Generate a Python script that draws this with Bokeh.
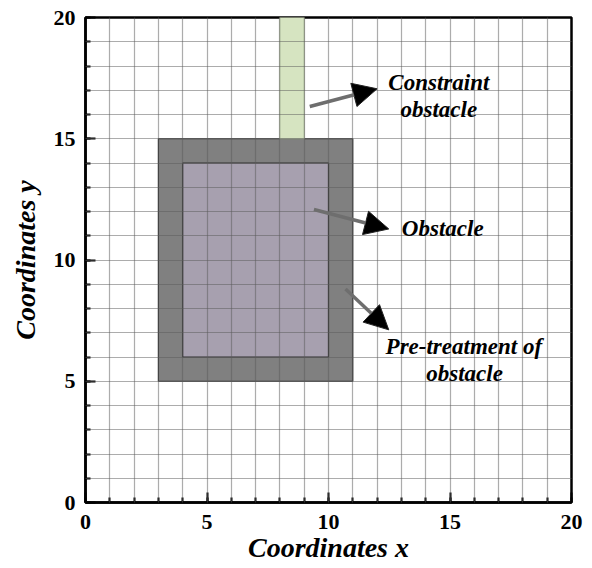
from bokeh.plotting import figure
from bokeh.models import (ColumnDataSource, Arrow, NormalHead, LabelSet,
                          SingleIntervalTicker)
from bokeh.embed import file_html
from bokeh.resources import INLINE

# Regions (data units)
region_names = ["Pre-treatment", "Obstacle", "Constraint"]
region_left = [3, 4, 8]
region_right = [11, 10, 9]
region_bottom = [5, 6, 15]
region_top = [15, 14, 20]
region_colors = ["#808080", "#a7a0af", "#d6e4c1"]
region_lines = ["#2e2e2e", "#2e2e2e", "#b5c2a2"]

# Arrows (tail -> tip)
arrow_x0 = [9.23, 9.40, 10.70]
arrow_y0 = [16.33, 12.08, 8.80]
arrow_x1 = [12.00, 12.48, 12.48]
arrow_y1 = [17.06, 11.28, 7.12]

# Annotation texts
label_text = ["Constraint", "obstacle", "Obstacle", "Pre-treatment of", "obstacle"]
label_x = [14.54, 14.54, 14.70, 15.57, 15.60]
label_y = [17.33, 16.19, 11.31, 6.43, 5.31]

FONT = "Liberation Serif"

p = figure(frame_width=486, frame_height=485, x_range=(0, 20), y_range=(0, 20),
           output_backend="svg", toolbar_location=None,
           min_border_left=85, min_border_top=17, min_border_right=12,
           min_border_bottom=10)

p.quad(left=region_left, right=region_right, bottom=region_bottom, top=region_top,
       fill_color=region_colors, line_color=region_lines, line_width=1.2)

# grid on every unit, drawn over the regions
for g in (p.xgrid[0], p.ygrid[0]):
    g.ticker = SingleIntervalTicker(interval=1)
    g.grid_line_color = "#5a5a5a"
    g.grid_line_alpha = 0.5
    g.grid_line_width = 1.2
    g.level = "guide"

for ax in (p.xaxis[0], p.yaxis[0]):
    ax.ticker = SingleIntervalTicker(interval=5, num_minor_ticks=5)
    ax.axis_line_width = 2.5
    ax.axis_line_color = "black"
    ax.major_tick_in = 10
    ax.major_tick_out = 0
    ax.minor_tick_in = 5
    ax.minor_tick_out = 0
    ax.major_tick_line_width = 2
    ax.minor_tick_line_width = 2
    ax.major_label_text_font = FONT
    ax.major_label_text_font_style = "bold"
    ax.major_label_text_font_size = "22px"
    ax.major_label_text_color = "black"
    ax.axis_label_text_font = FONT
    ax.axis_label_text_font_style = "bold italic"
    ax.axis_label_text_font_size = "28px"
    ax.axis_label_text_color = "black"

p.xaxis.axis_label = "Coordinates x"
p.yaxis.axis_label = "Coordinates y"
p.xaxis.major_label_standoff = 12
p.yaxis.major_label_standoff = 10
p.xaxis.axis_label_standoff = 0
p.yaxis.axis_label_standoff = 10

p.outline_line_color = "black"
p.outline_line_width = 2.5
p.outline_line_alpha = 1

arrow_src = ColumnDataSource(dict(x0=arrow_x0, y0=arrow_y0, x1=arrow_x1, y1=arrow_y1))
p.add_layout(Arrow(end=NormalHead(size=24, fill_color="black", line_color="#222222"),
                   x_start="x0", y_start="y0", x_end="x1", y_end="y1",
                   source=arrow_src, line_color="#6e6e6e", line_width=3.5))

label_src = ColumnDataSource(dict(x=label_x, y=label_y, t=label_text))
p.add_layout(LabelSet(x="x", y="y", text="t", source=label_src,
                      text_align="center", text_baseline="middle",
                      text_font=FONT, text_font_style="bold italic",
                      text_font_size="23px", text_color="black"))

open("out.html", "w").write(file_html(p, INLINE))
